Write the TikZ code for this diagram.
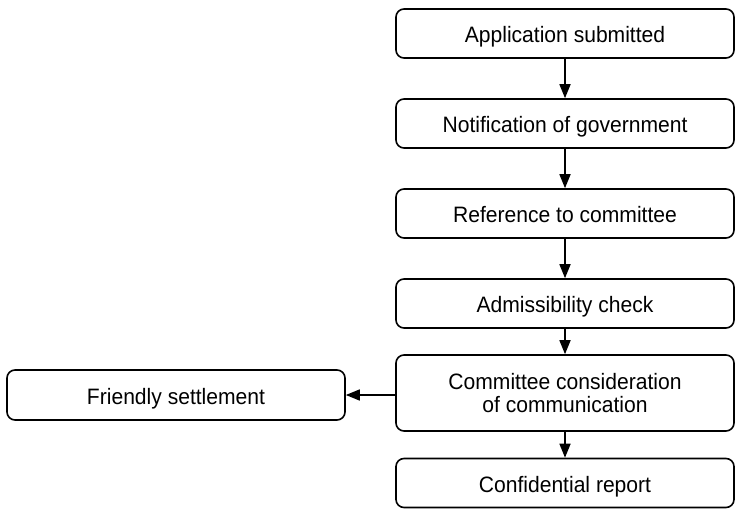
\documentclass[tikz,border=0pt]{standalone}
\usepackage{fontspec}
\setmainfont{Liberation Sans}[FakeStretch=0.945]
\usetikzlibrary{arrows.meta}
\begin{document}
\begin{tikzpicture}[x=1pt,y=-1pt,
  stage/.style={draw, line width=1.6pt, rounded corners=8pt, minimum width=338pt,
    minimum height=49pt, inner sep=0pt,
    text height=19pt, text depth=1pt,
    font=\fontsize{22.3}{23}\selectfont},
  flow/.style={line width=1.6pt, -{Triangle[length=14pt,width=11pt]}}]
  \useasboundingbox (0,0) rectangle (738,510);
  \node[stage] (submit) at (565,33.5) {Application submitted};
  \node[stage] (notify) at (565,123.5) {Notification of government};
  \node[stage] (refer) at (565,213.5) {Reference to committee};
  \node[stage] (admit) at (565,303.5) {Admissibility check};
  \node[stage, minimum height=76pt, text height=18pt, text depth=26pt] (consider) at (565,393)
    {\begin{tabular}[t]{@{}c@{}}Committee consideration\\of communication\end{tabular}};
  \node[stage] (report) at (565,483) {Confidential report};
  \node[stage, minimum height=50pt] (friendly) at (176,395) {Friendly settlement};
  \draw[flow] (submit) -- (notify);
  \draw[flow] (notify) -- (refer);
  \draw[flow] (refer) -- (admit);
  \draw[flow] (admit) -- (consider);
  \draw[flow] (consider) -- (report);
  \draw[flow] (consider.west |- friendly) -- (friendly);
\end{tikzpicture}
\end{document}
